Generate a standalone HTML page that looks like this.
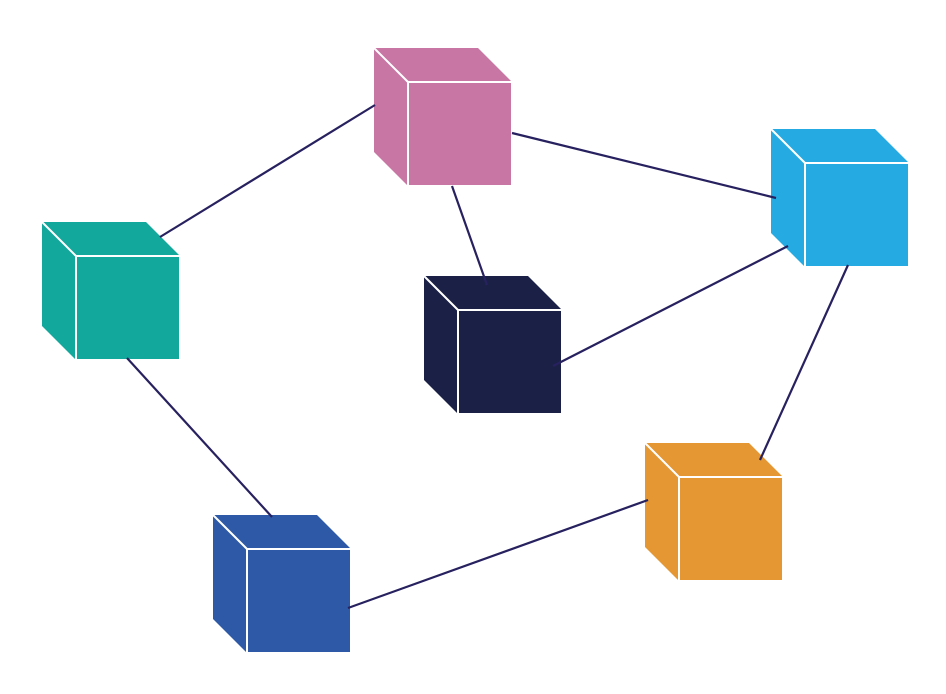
<!DOCTYPE html>
<html><head><meta charset="utf-8"><style>html,body{margin:0;padding:0;background:#fff}svg{display:block}</style></head>
<body>
<svg width="946" height="694" viewBox="0 0 946 694" xmlns="http://www.w3.org/2000/svg">
<defs>
<g id="cube">
  <polygon points="0,0 104,0 138,34 138,138 34,138 0,104"/>
  <g stroke="#fff" stroke-width="2" fill="none">
    <polyline points="0,0 34,34"/>
    <rect x="34" y="34" width="104" height="104"/>
  </g>
</g>
</defs>
<use href="#cube" x="374" y="48" fill="#c877a5"/>
<use href="#cube" x="771" y="129" fill="#25abe1"/>
<use href="#cube" x="42" y="222" fill="#13a89c"/>
<use href="#cube" x="424" y="276" fill="#1b2146"/>
<use href="#cube" x="645" y="443" fill="#e49732"/>
<use href="#cube" x="213" y="515" fill="#2e59a6"/>
<g stroke="#27215f" stroke-width="2.2" fill="none">
<line x1="160" y1="237" x2="375" y2="105"/>
<line x1="512" y1="133" x2="776" y2="198"/>
<line x1="452" y1="186" x2="487" y2="285"/>
<line x1="553" y1="366" x2="788" y2="246"/>
<line x1="848" y1="265" x2="760" y2="460"/>
<line x1="127" y1="358" x2="272" y2="517"/>
<line x1="348" y1="608" x2="648" y2="500"/>
</g>
</svg>
</body></html>
